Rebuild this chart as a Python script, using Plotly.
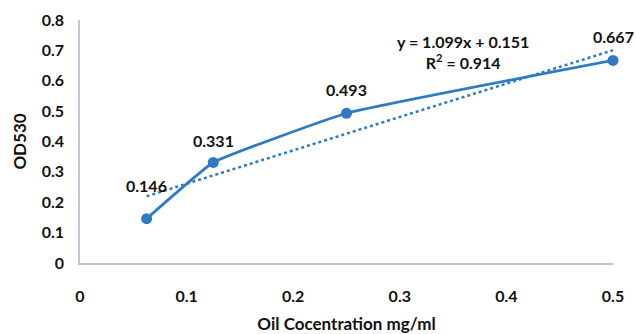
import plotly.graph_objects as go

conc = [0.0625, 0.125, 0.25, 0.5]
od530 = [0.146, 0.331, 0.493, 0.667]
labels = ["0.146", "0.331", "0.493", "0.667"]
slope, intercept, r2 = 1.099, 0.151, 0.914
x_ticks = [0, 0.1, 0.2, 0.3, 0.4, 0.5]
y_ticks = [0, 0.1, 0.2, 0.3, 0.4, 0.5, 0.6, 0.7, 0.8]

blue = "#2E7BC4"
axis_col = "#BFC8D4"
font = "Lato, 'Open Sans', sans-serif"
wt = "bold"

trend_x = [conc[0], conc[-1]]
trend_y = [slope * v + intercept for v in trend_x]

fig = go.Figure()
fig.add_trace(go.Scatter(x=trend_x, y=trend_y, mode="lines",
                         line=dict(color=blue, width=2.5, dash="dot"),
                         hoverinfo="skip", cliponaxis=False))
fig.add_trace(go.Scatter(x=conc, y=od530, mode="lines+markers", cliponaxis=False,
                         line=dict(color=blue, width=2.8, shape="spline", smoothing=0.3),
                         marker=dict(color=blue, size=11)))

shifts = [33, 22, 24, 24]
for xv, yv, t, s in zip(conc, od530, labels, shifts):
    fig.add_annotation(x=xv, y=yv, text=t, showarrow=False, yshift=s,
                       font=dict(size=16, color="#111", family=font, weight=wt))

fig.add_annotation(x=0.359, y=0.695, xref="x", yref="y", showarrow=False,
                   text=f"y = {slope}x + {intercept}<br>R<sup>2</sup> = {r2}",
                   align="center",
                   font=dict(size=16, color="#111", family=font, weight=wt))

fig.update_layout(
    width=636, height=334,
    margin=dict(l=80, r=23, t=20, b=71),
    paper_bgcolor="white", plot_bgcolor="white",
    showlegend=False,
    font=dict(family=font, color="#111"),
)
fig.update_xaxes(range=[0, 0.5], tickvals=x_ticks, ticktext=[f"{v:g}" for v in x_ticks],
                 showgrid=False, zeroline=False, showline=True, linecolor=axis_col, linewidth=1.5,
                 ticks="", ticklabelstandoff=18, automargin=False,
                 tickfont=dict(size=16, family=font, weight=wt),
                 title=dict(text="Oil Cocentration mg/ml", standoff=15,
                            font=dict(size=17, family=font, weight=wt)))
fig.update_yaxes(range=[0, 0.8], tickvals=y_ticks, ticktext=[f"{v:g}" for v in y_ticks],
                 showgrid=False, zeroline=False, showline=True, linecolor=axis_col, linewidth=1.5,
                 ticks="", ticklabelstandoff=11, automargin=False,
                 tickfont=dict(size=16, family=font, weight=wt),
                 title=dict(text="OD530", standoff=11,
                            font=dict(size=17, family=font, weight=wt)))

fig.write_html("out.html", config={"displayModeBar": False},
               post_script="document.body.style.margin='0px';")
